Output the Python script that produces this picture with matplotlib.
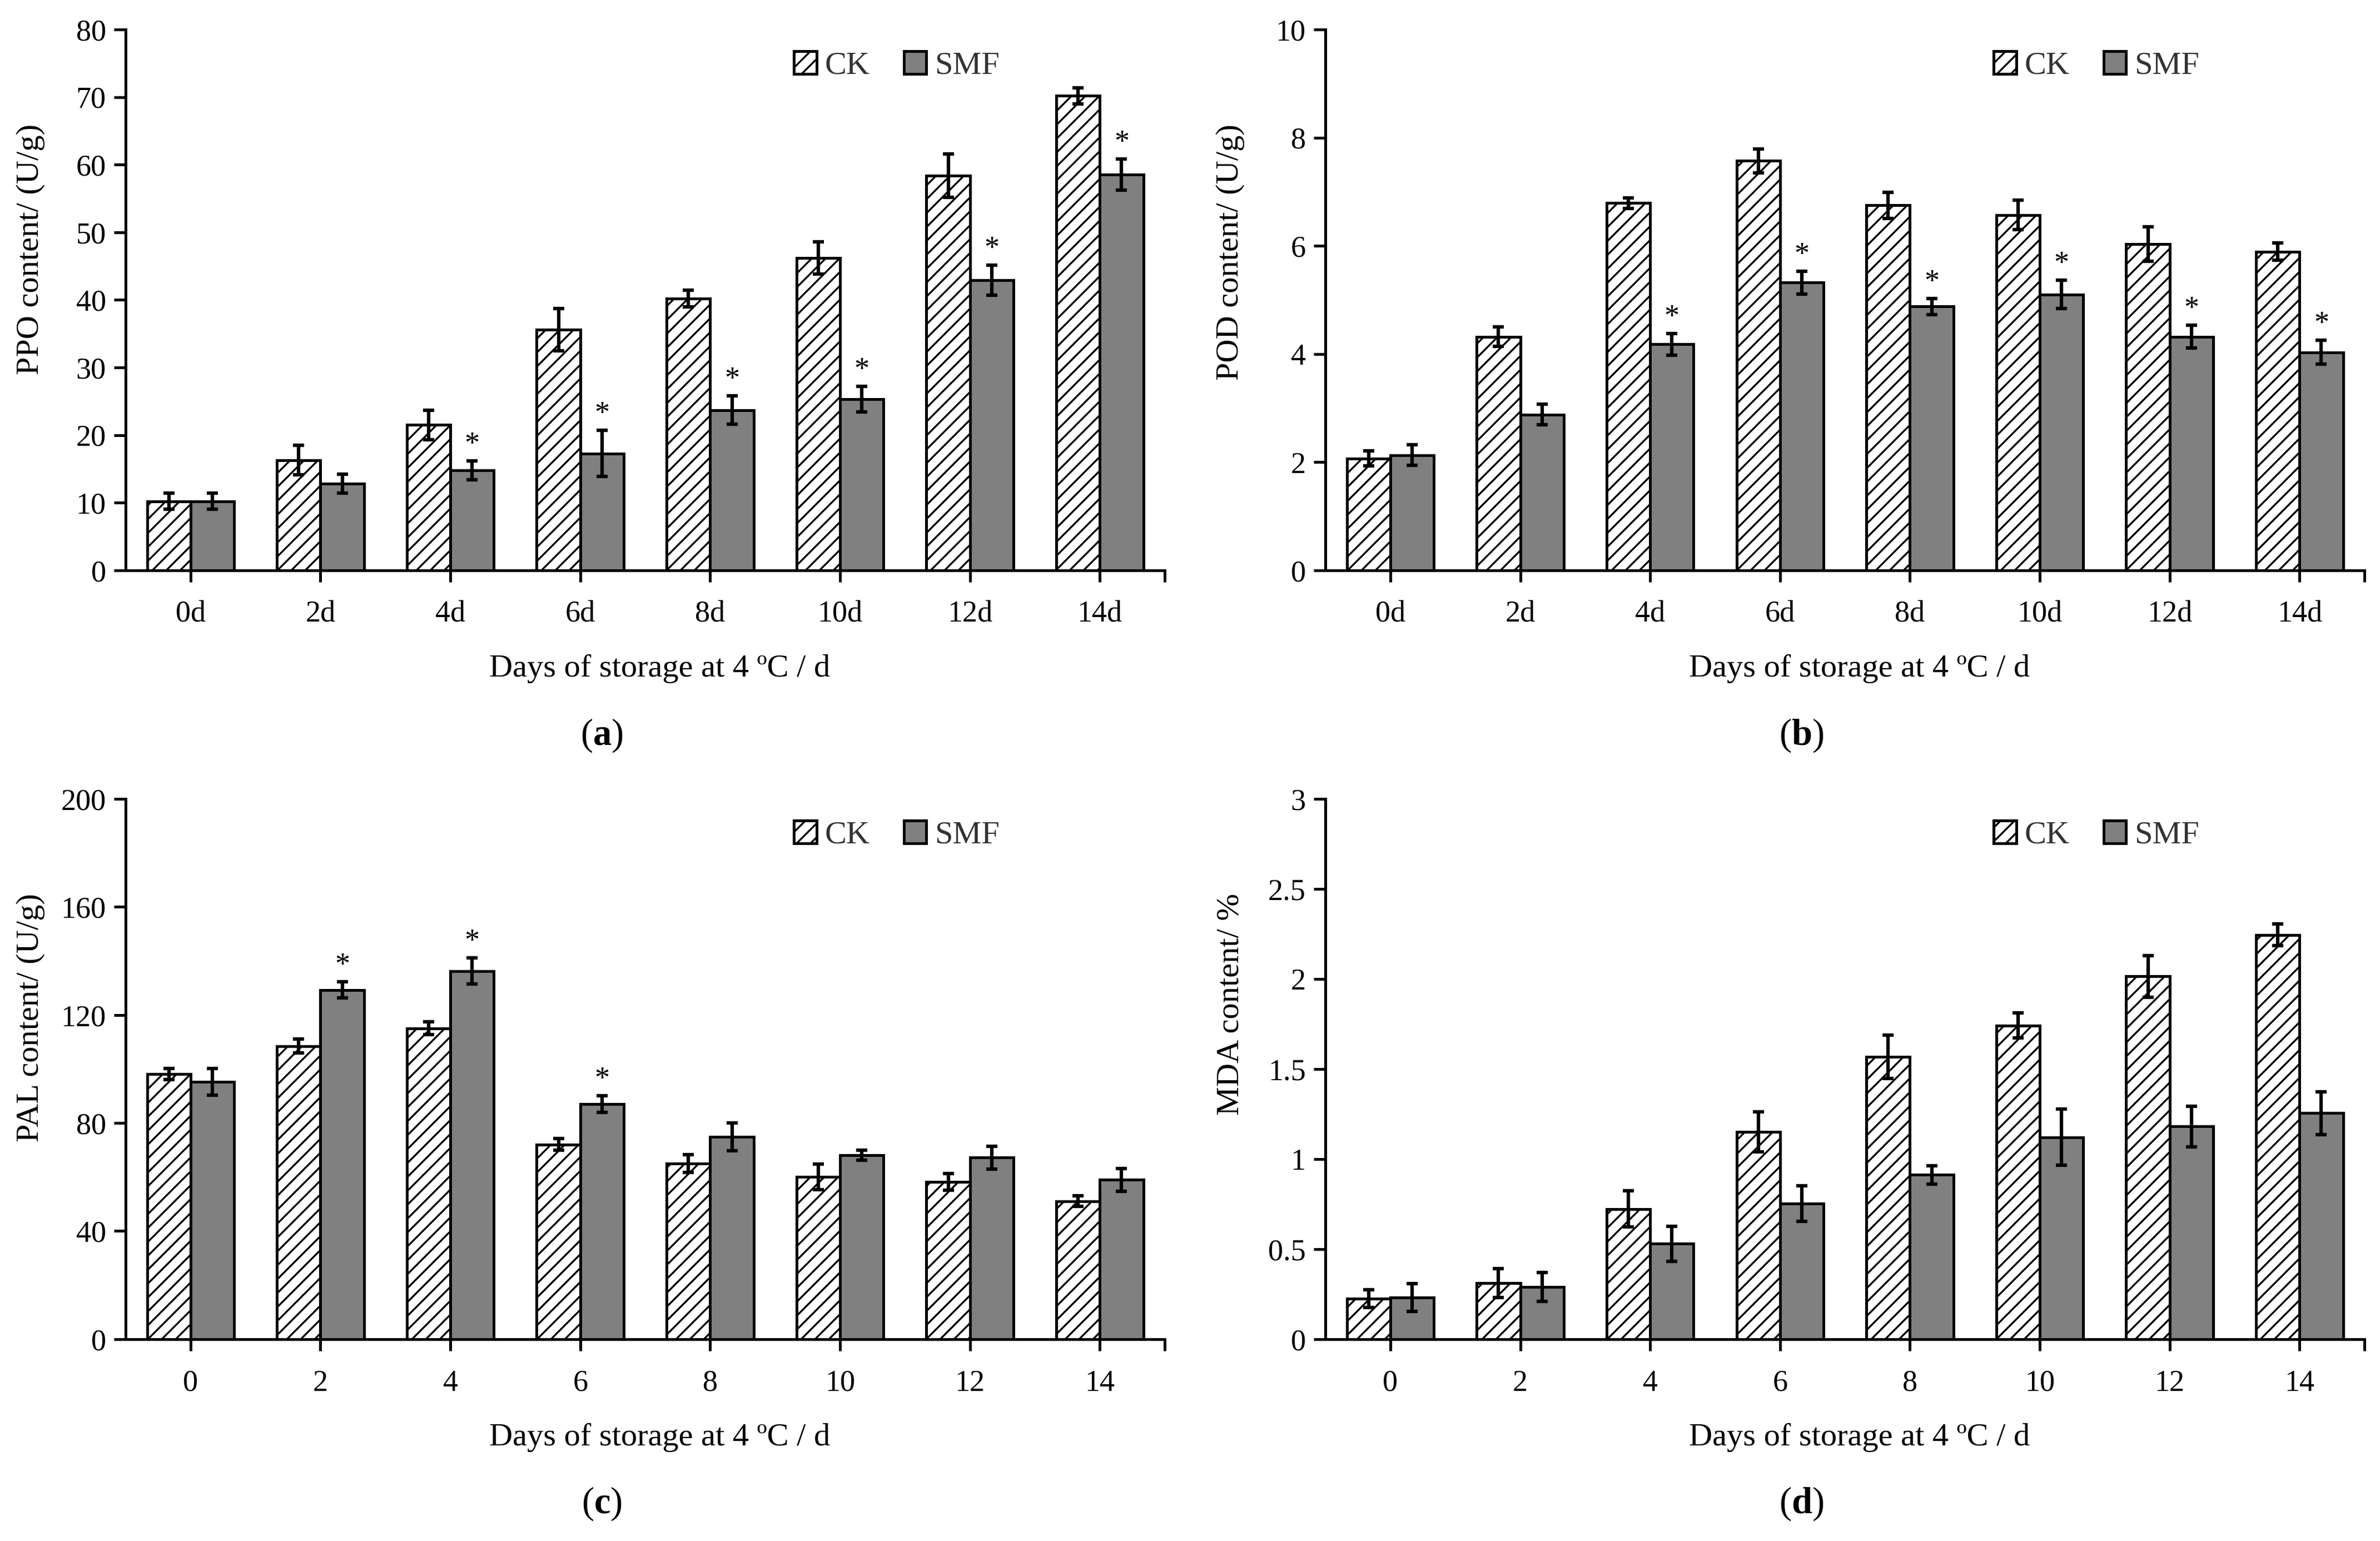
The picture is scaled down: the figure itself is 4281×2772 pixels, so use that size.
import matplotlib
matplotlib.use('Agg')
import matplotlib.pyplot as plt
import numpy as np

plt.rcParams['font.family'] = ['Liberation Serif', 'DejaVu Serif']
plt.rcParams['mathtext.fontset'] = 'custom'
plt.rcParams['mathtext.rm'] = 'Liberation Serif'
plt.rcParams['mathtext.bf'] = 'Liberation Serif:bold'
plt.rcParams['hatch.linewidth'] = 0.8

# categories
labels_d = ['0d', '2d', '4d', '6d', '8d', '10d', '12d', '14d']
labels_n = ['0', '2', '4', '6', '8', '10', '12', '14']

# (a) PPO
ppo_ck = [10.2, 16.3, 21.5, 35.6, 40.2, 46.2, 58.4, 70.2]
ppo_ck_err = [1.2, 2.2, 2.2, 3.1, 1.2, 2.4, 3.2, 1.2]
ppo_smf = [10.2, 12.8, 14.8, 17.3, 23.7, 25.3, 42.9, 58.5]
ppo_smf_err = [1.2, 1.4, 1.4, 3.4, 2.1, 1.9, 2.2, 2.3]
ppo_sig = [0, 0, 1, 1, 1, 1, 1, 1]

# (b) POD
pod_ck = [2.07, 4.32, 6.79, 7.57, 6.75, 6.57, 6.03, 5.89]
pod_ck_err = [0.14, 0.18, 0.10, 0.22, 0.24, 0.27, 0.32, 0.16]
pod_smf = [2.13, 2.88, 4.18, 5.32, 4.88, 5.10, 4.32, 4.03]
pod_smf_err = [0.19, 0.19, 0.20, 0.21, 0.15, 0.26, 0.21, 0.22]
pod_sig = [0, 0, 1, 1, 1, 1, 1, 1]

# (c) PAL
pal_ck = [98.1, 108.5, 115.1, 72.1, 65.0, 60.1, 58.3, 51.1]
pal_ck_err = [2.0, 2.6, 2.3, 2.1, 3.3, 4.7, 3.1, 1.9]
pal_smf = [95.2, 129.3, 136.3, 87.1, 74.9, 68.1, 67.2, 59.0]
pal_smf_err = [4.9, 2.9, 4.9, 3.1, 5.1, 1.9, 4.2, 4.2]
pal_sig = [0, 1, 1, 1, 0, 0, 0, 0]

# (d) MDA
mda_ck = [0.225, 0.312, 0.723, 1.151, 1.567, 1.742, 2.014, 2.244]
mda_ck_err = [0.05, 0.08, 0.10, 0.11, 0.12, 0.07, 0.115, 0.06]
mda_smf = [0.23, 0.29, 0.53, 0.753, 0.912, 1.121, 1.181, 1.255]
mda_smf_err = [0.077, 0.08, 0.097, 0.10, 0.05, 0.156, 0.112, 0.118]
mda_sig = [0, 0, 0, 0, 0, 0, 0, 0]

xlabel = 'Days of storage at 4 ºC / d'


def draw_panel(ax, ck, ck_err, smf, smf_err, sig, yticks, yticklabels,
               xticklabels, ylabel, tag):
    x = np.arange(len(ck))
    w = 0.335
    ax.bar(x - w / 2, ck, w, color='white', edgecolor='black', hatch='////',
           linewidth=1.2, label='CK', zorder=2)
    ax.bar(x + w / 2, smf, w, color='#808080', edgecolor='black',
           linewidth=1.2, label='SMF', zorder=2)
    ax.errorbar(x - w / 2, ck, yerr=ck_err, fmt='none', ecolor='black',
                elinewidth=1.5, capsize=2.5, capthick=1.5, zorder=3)
    ax.errorbar(x + w / 2, smf, yerr=smf_err, fmt='none', ecolor='black',
                elinewidth=1.5, capsize=2.5, capthick=1.5, zorder=3)
    for i in range(len(smf)):
        if sig[i]:
            ax.annotate('*', (x[i] + w / 2, smf[i] + smf_err[i]),
                        xytext=(0, 3.6), textcoords='offset points',
                        ha='center', va='baseline', fontsize=13)

    ax.set_xlim(-0.5, 7.5)
    ax.set_ylim(yticks[0], yticks[-1])
    ax.set_xticks(x)
    ax.set_xticklabels(xticklabels)
    ax.set_xticks([7.5], minor=True)
    ax.set_yticks(yticks)
    ax.set_yticklabels(yticklabels)
    for s in ['top', 'right']:
        ax.spines[s].set_visible(False)
    for s in ['left', 'bottom']:
        ax.spines[s].set_linewidth(1.2)
    ax.tick_params(which='both', direction='out', length=5, width=1.2,
                   labelsize=13)
    ax.tick_params(axis='x', pad=8)
    ax.tick_params(axis='y', pad=3.5)

    ax.text(-0.0915, 0.825, ylabel, rotation=90, ha='center', va='top',
            transform=ax.transAxes, fontsize=14)
    ax.text(0.514, -0.182, xlabel, ha='center', va='center',
            transform=ax.transAxes, fontsize=14)
    ax.text(0.458, -0.305, r'($\mathbf{' + tag + '}$)', ha='center',
            va='center', transform=ax.transAxes, fontsize=16)

    ax.legend(loc='center left', bbox_to_anchor=(0.643, 0.933), ncol=2,
              frameon=False, fontsize=14, handlelength=0.7, handleheight=0.7,
              handletextpad=0.25, columnspacing=1.05, borderpad=0,
              borderaxespad=0, labelcolor='#333333')


fig = plt.figure(figsize=(4281 / 300, 2772 / 300), facecolor='white')
ax_a = fig.add_axes([0.0528, 0.6299, 0.4366, 0.3510])
ax_b = fig.add_axes([0.5569, 0.6299, 0.4366, 0.3510])
ax_c = fig.add_axes([0.0528, 0.1310, 0.4366, 0.3506])
ax_d = fig.add_axes([0.5569, 0.1310, 0.4366, 0.3506])

draw_panel(ax_a, ppo_ck, ppo_ck_err, ppo_smf, ppo_smf_err, ppo_sig,
           [0, 10, 20, 30, 40, 50, 60, 70, 80],
           ['0', '10', '20', '30', '40', '50', '60', '70', '80'],
           labels_d, 'PPO content/ (U/g)', 'a')
draw_panel(ax_b, pod_ck, pod_ck_err, pod_smf, pod_smf_err, pod_sig,
           [0, 2, 4, 6, 8, 10],
           ['0', '2', '4', '6', '8', '10'],
           labels_d, 'POD content/ (U/g)', 'b')
draw_panel(ax_c, pal_ck, pal_ck_err, pal_smf, pal_smf_err, pal_sig,
           [0, 40, 80, 120, 160, 200],
           ['0', '40', '80', '120', '160', '200'],
           labels_n, 'PAL content/ (U/g)', 'c')
draw_panel(ax_d, mda_ck, mda_ck_err, mda_smf, mda_smf_err, mda_sig,
           [0, 0.5, 1, 1.5, 2, 2.5, 3],
           ['0', '0.5', '1', '1.5', '2', '2.5', '3'],
           labels_n, 'MDA content/ %', 'd')

fig.savefig('out.png', dpi=300, facecolor='white')
